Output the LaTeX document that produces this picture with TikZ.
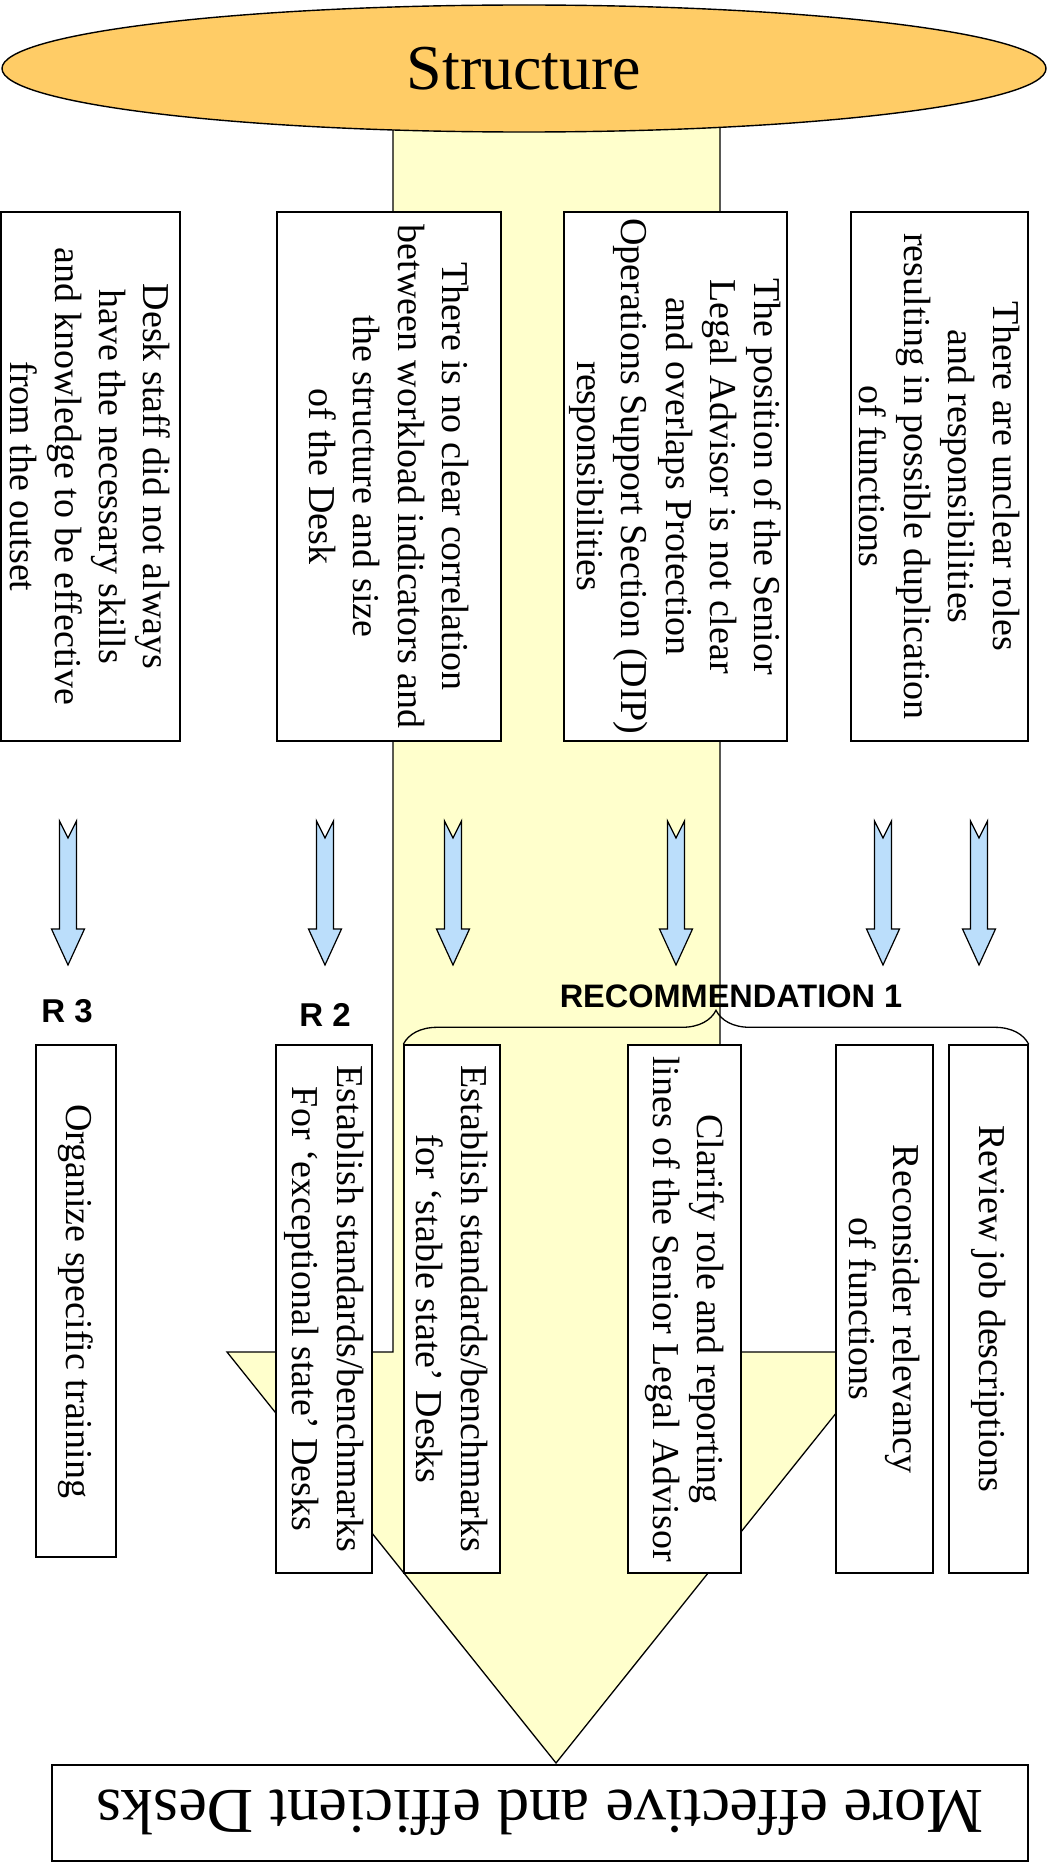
\documentclass[tikz,border=0pt]{standalone}
\usepackage{fontspec}
\setmainfont{Liberation Serif}
\setsansfont{Liberation Sans}
\usetikzlibrary{shapes.geometric,decorations.pathreplacing}
\definecolor{gold}{RGB}{255,204,102}
\definecolor{paleyellow}{RGB}{255,255,204}
\definecolor{lightblue}{RGB}{187,222,251}
\begin{document}
\begin{tikzpicture}[x=1pt,y=-1pt,
  tbox/.style={draw=black, fill=white, line width=1.4pt, rotate=-90, inner sep=0pt,
    align=center, font=\fontsize{38}{44.4}\selectfont},
  rlabel/.style={font=\sffamily\bfseries\fontsize{33}{36}\selectfont, inner sep=0pt},
  bigtext/.style={font=\fontsize{64}{70}\selectfont},
  blockarrow/.pic={\draw[fill=lightblue, line width=1.2pt, line join=miter]
     (-8.5,0) -- (0,17) -- (8.5,0) -- (8.5,108) -- (16.5,108) -- (0,144)
     -- (-16.5,108) -- (-8.5,108) -- cycle;}
]
\useasboundingbox (0,0) rectangle (1056,1865);

% big yellow arrow
\draw[fill=paleyellow, line width=1.3pt, line join=miter]
  (393,100) -- (393,1352) -- (227,1352) -- (556,1763) -- (885,1352)
  -- (720,1352) -- (720,100) -- cycle;

% ellipse
\node[ellipse, draw, fill=gold, line width=1.4pt, minimum width=1044pt,
  minimum height=127pt, inner sep=0pt, bigtext] (structure) at (524,68.5) {Structure};

% findings
\node[tbox, minimum width=529pt, minimum height=179pt] (b1) at (90.5,476.5)
  {Desk staff did not always\\have the necessary skills\\and knowledge to be effective\\from the outset};
\node[tbox, minimum width=529pt, minimum height=224pt] (b2) at (389,476.5)
  {There is no clear correlation\\between workload indicators and\\the structure and size\\of the Desk};
\node[tbox, minimum width=529pt, minimum height=223pt] (b3) at (675.5,476.5)
  {The position of the Senior\\Legal Advisor is not clear\\and overlaps Protection\\Operations Support Section (DIP)\\responsibilities};
\node[tbox, minimum width=529pt, minimum height=177pt] (b4) at (939.5,476.5)
  {There are unclear roles\\and responsibilities\\resulting in possible duplication\\of functions};

% blue arrows
\foreach \cx in {68,325,453,676,883,979}
  \pic at (\cx,821) {blockarrow};

% labels
\node[rlabel] (r3) at (67,1011) {R 3};
\node[rlabel] (r2) at (325,1015) {R 2};
\node[rlabel, font=\sffamily\bfseries\fontsize{32.5}{36}\selectfont] (rec1) at (731,996) {RECOMMENDATION 1};

% recommendations
\node[tbox, minimum width=512pt, minimum height=80pt] (r3box) at (76,1301)
  {Organize specific training};
\node[tbox, minimum width=528pt, minimum height=96pt] (r2box) at (324,1309)
  {Establish standards/benchmarks\\For ‘exceptional state’ Desks};
\node[tbox, minimum width=528pt, minimum height=96pt] (stable) at (452,1309)
  {Establish standards/benchmarks\\for ‘stable state’ Desks};
\node[tbox, minimum width=528pt, minimum height=113pt] (clarify) at (684.5,1309)
  {Clarify role and reporting\\lines of the Senior Legal Advisor};
\node[tbox, minimum width=528pt, minimum height=97pt] (recon) at (884.5,1309)
  {Reconsider relevancy\\of functions};
\node[tbox, minimum width=528pt, minimum height=79pt] (review) at (988.5,1309)
  {Review job descriptions};

% brace
\draw[line width=1.3pt, decorate, decoration={brace, amplitude=34pt}]
  (stable.south west) -- (review.north west);

% result
\node[draw, fill=white, line width=1.4pt, rotate=180, minimum width=976pt,
  minimum height=96pt, inner sep=0pt, bigtext] (result) at (540,1813)
  {More effective and efficient Desks};
\end{tikzpicture}
\end{document}
